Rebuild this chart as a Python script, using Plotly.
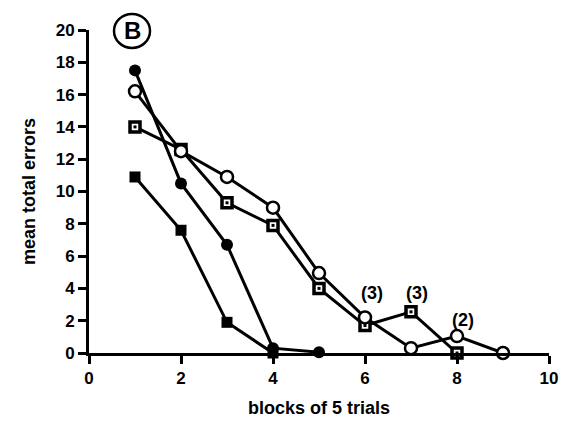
import plotly.graph_objects as go

blocks = [1, 2, 3, 4, 5, 6, 7, 8, 9]
filled_circle = [17.5, 10.5, 6.7, 0.3, 0.05]
open_circle = [16.2, 12.5, 10.9, 9.0, 4.95, 2.2, 0.3, 1.05, 0.0]
open_square = [14.0, 12.6, 9.3, 7.9, 4.0, 1.7, 2.55, 0.0]
filled_square = [10.9, 7.6, 1.9, 0.0]
notes = ["(3)", "(3)", "(2)"]
note_x = [6.15, 7.13, 8.13]
note_y = [3.7, 3.7, 2.05]

FONT = "Liberation Sans"
fig = go.Figure()

line = dict(color="black", width=3)
fig.add_trace(go.Scatter(x=blocks[:len(filled_square)], y=filled_square, mode="lines+markers",
                         line=line, marker=dict(symbol="square", size=11, color="black"),
                         cliponaxis=False))
fig.add_trace(go.Scatter(x=blocks[:len(filled_circle)], y=filled_circle, mode="lines+markers",
                         line=line, marker=dict(symbol="circle", size=12, color="black"),
                         cliponaxis=False))
fig.add_trace(go.Scatter(x=blocks[:len(open_square)], y=open_square, mode="lines+markers",
                         line=line, marker=dict(symbol="square", size=10, color="white",
                                                line=dict(color="black", width=3.5)),
                         cliponaxis=False))
fig.add_trace(go.Scatter(x=blocks[:len(open_square)], y=open_square, mode="markers",
                         marker=dict(symbol="square", size=3, color="black"),
                         cliponaxis=False))
fig.add_trace(go.Scatter(x=blocks[:len(open_circle)], y=open_circle, mode="lines+markers",
                         line=line, marker=dict(symbol="circle", size=12, color="white",
                                                line=dict(color="black", width=2.5)),
                         cliponaxis=False))

for t, x, y in zip(notes, note_x, note_y):
    fig.add_annotation(x=x, y=y, text=t, showarrow=False, xanchor="center", yanchor="middle",
                       font=dict(family=FONT, size=18, color="black", weight="bold"))

cx, cy = 0.0935, 0.997
fig.add_shape(type="circle", xref="paper", yref="paper",
              x0=cx - 18 / 460, x1=cx + 18 / 460, y0=cy - 17 / 323, y1=cy + 17 / 323,
              line=dict(color="black", width=2.5))
fig.add_annotation(xref="paper", yref="paper", x=cx, y=cy, text="B",
                   xanchor="center", yanchor="middle",
                   showarrow=False, font=dict(family=FONT, size=24, color="black", weight="bold"))

axis_common = dict(showline=True, linecolor="black", linewidth=3, ticks="outside",
                   ticklen=8, tickwidth=3, tickcolor="black", showgrid=False, zeroline=False,
                   automargin=False,
                   tickfont=dict(family=FONT, size=17, color="black", weight="bold"),
                   title_font=dict(family=FONT, size=18, color="black", weight="bold"))

fig.update_xaxes(range=[0, 10], tickvals=[0, 2, 4, 6, 8, 10],
                 title_text="blocks of 5 trials", title_standoff=14, **axis_common)
fig.update_yaxes(range=[0, 20], tickvals=list(range(0, 21, 2)),
                 title_text="mean total errors", title_standoff=16, **axis_common)

fig.update_layout(width=568, height=423, showlegend=False,
                  margin=dict(l=89, r=19, t=30, b=70),
                  plot_bgcolor="white", paper_bgcolor="white")

fig.write_html("out.html")
